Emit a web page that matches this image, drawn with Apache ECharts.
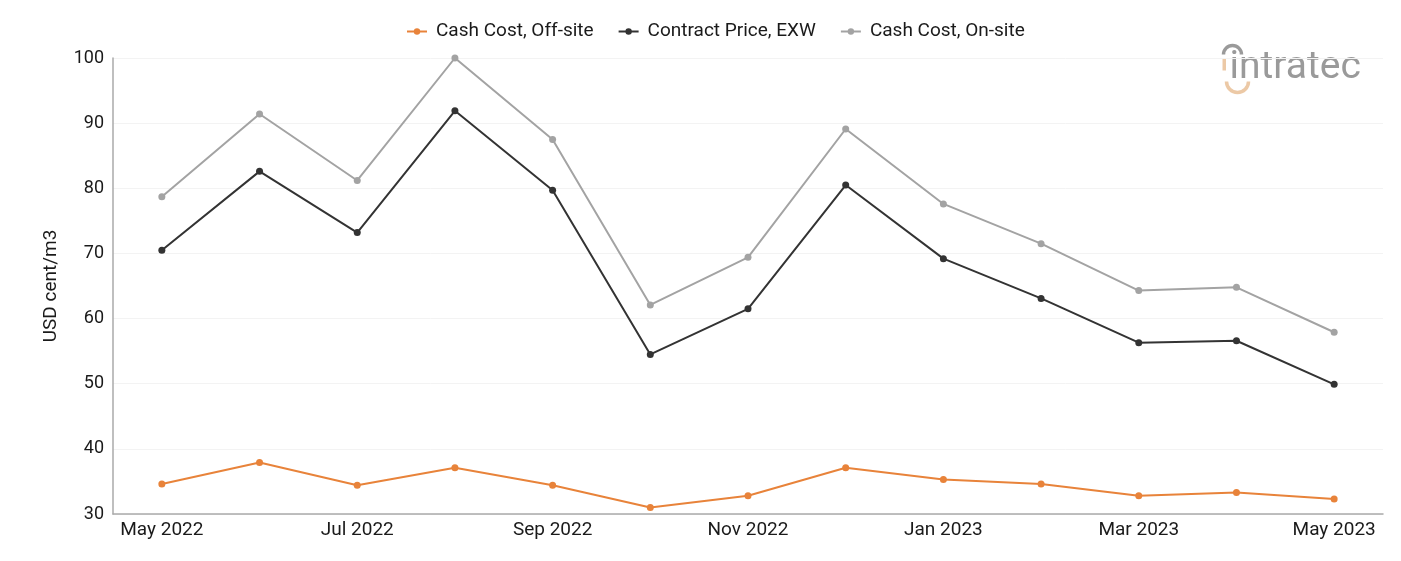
<!DOCTYPE html>
<html>
<head>
<meta charset="utf-8">
<script src="https://cdn.jsdelivr.net/npm/echarts@6/dist/echarts.min.js"></script>
<style>
  html, body { margin: 0; padding: 0; background: #fff; }
  #chart { width: 1401px; height: 561px; }
</style>
</head>
<body>
<div id="chart"></div>
<script>
var months = ['May 2022','Jun 2022','Jul 2022','Aug 2022','Sep 2022','Oct 2022','Nov 2022',
              'Dec 2022','Jan 2023','Feb 2023','Mar 2023','Apr 2023','May 2023'];
var cashOffsite = [34.6, 37.9, 34.4, 37.1, 34.4, 31.0, 32.8, 37.1, 35.3, 34.6, 32.8, 33.3, 32.3];
var contractExw = [70.5, 82.6, 73.2, 91.9, 79.7, 54.5, 61.5, 80.5, 69.2, 63.1, 56.3, 56.6, 49.9];
var cashOnsite  = [78.7, 91.4, 81.2, 100.0, 87.5, 62.1, 69.4, 89.1, 77.6, 71.5, 64.3, 64.8, 57.9];
var yTicks = [30, 40, 50, 60, 70, 80, 90, 100];

var chart = echarts.init(document.getElementById('chart'));

var mkSeries = function(name, data, color){
    return {
        name: name,
        type: 'line',
        data: data,
        symbol: 'circle',
        symbolSize: 7,
        lineStyle: { color: color, width: 2 },
        itemStyle: { color: color },
        emphasis: { disabled: true }
    };
};

var option = {
    animation: false,
    textStyle: { fontFamily: 'Roboto' },
    color: ['#e8833a', '#333333', '#a3a3a3'],
    legend: {
        top: 17,
        left: 401,
        itemWidth: 20,
        itemHeight: 8,
        itemGap: 24,
        textStyle: { fontSize: 19, color: '#1a1a1a', fontFamily: 'Roboto', padding: [0, 0, 0, 4] },
        data: ['Cash Cost, Off-site', 'Contract Price, EXW', 'Cash Cost, On-site']
    },
    grid: { left: 113, right: 18, top: 58, bottom: 47 },
    xAxis: {
        type: 'category',
        data: months,
        boundaryGap: true,
        axisLine: { lineStyle: { color: '#aaaaaa', width: 1.5 } },
        axisTick: { show: false },
        axisLabel: { interval: 1, fontSize: 19, color: '#1a1a1a', margin: 7, fontFamily: 'Roboto' }
    },
    yAxis: {
        type: 'value',
        min: yTicks[0],
        max: yTicks[yTicks.length - 1],
        interval: 10,
        name: 'USD cent/m3',
        nameLocation: 'middle',
        nameGap: 52,
        nameTextStyle: { fontSize: 19, color: '#1a1a1a', fontFamily: 'Roboto' },
        axisLine: { show: true, lineStyle: { color: '#aaaaaa', width: 1.5 } },
        axisTick: { show: false },
        axisLabel: { fontSize: 18, color: '#1a1a1a', margin: 9, fontFamily: 'Roboto' },
        splitLine: { lineStyle: { color: '#f3f3f3' } }
    },
    graphic: [
        {
            type: 'group',
            left: 1221,
            top: 43,
            children: [
                { type: 'arc', shape: { cx: 11, cy: 11, r: 9, startAngle: Math.PI, endAngle: 2 * Math.PI },
                  style: { stroke: '#9a9a9a', lineWidth: 3.5, fill: null } },
                { type: 'rect', shape: { x: 1, y: 15, width: 3.5, height: 12 }, style: { fill: '#ecc9a6' } },
                { type: 'arc', shape: { cx: 16, cy: 38, r: 11, startAngle: 0, endAngle: Math.PI },
                  style: { stroke: '#ecc9a6', lineWidth: 3.5, fill: null } },
                { type: 'text', x: 8, y: 5,
                  style: { text: 'intratec', fill: '#9a9a9a', font: '39px Roboto' } }
            ]
        }
    ],
    series: [
        mkSeries('Cash Cost, Off-site', cashOffsite, '#e8833a'),
        mkSeries('Contract Price, EXW', contractExw, '#333333'),
        mkSeries('Cash Cost, On-site', cashOnsite, '#a3a3a3')
    ]
};
chart.setOption(option);
</script>
</body>
</html>
